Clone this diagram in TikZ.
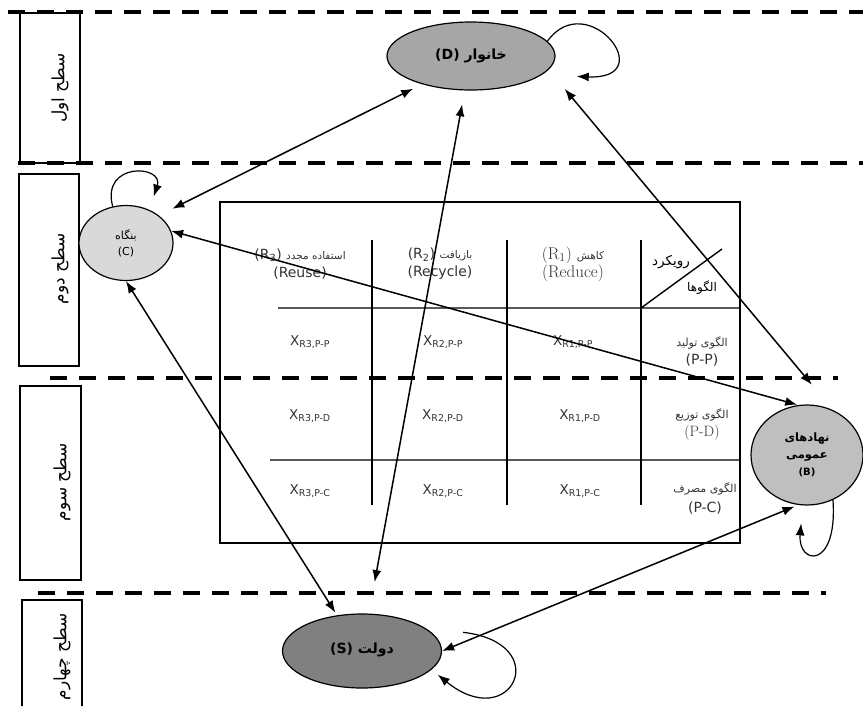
\documentclass[tikz,border=0pt]{standalone}
\usepackage{fontspec}
\usetikzlibrary{arrows.meta,shapes.geometric}
\TeXXeTstate=1
\newfontfamily\fa[Script=Arabic]{DejaVu Sans}
\newfontfamily\lat{DejaVu Sans}
\definecolor{khanevar}{RGB}{166,166,166}
\definecolor{bongah}{RGB}{217,217,217}
\definecolor{nahad}{RGB}{191,191,191}
\definecolor{dolat}{RGB}{128,128,128}
\begin{document}
\begin{tikzpicture}[x=1pt,y=-1pt,
	levelline/.style={line width=3.2pt,dash pattern=on 17pt off 12pt},
	rule/.style={line width=1.4pt},
	levelname/.style={rotate=90,font=\fa\fontsize{17}{20}\selectfont},
	actor/.style={draw,ellipse,line width=1.2pt,inner sep=0pt,align=center,font=\fa\bfseries\fontsize{14}{16}\selectfont},
	cell/.style={align=center,text=black!80,font=\lat\fontsize{14}{18}\selectfont},
	xcell/.style={text=black!80,font=\lat\fontsize{13.5}{14}\selectfont},
	link/.style={<->,>={Latex[length=12pt,width=9pt]},line width=1.5pt},
	selfloop/.style={->,>={Latex[length=12pt,width=9pt]},line width=1.2pt}]
	\useasboundingbox (0,0) rectangle (863,705);
	% مرز سطوح
	\foreach \y/\a/\b in {12/8/863,163/18/863,378/50/838,593/38/826}
	\draw[levelline] (\a,\y) -- (\b,\y);
	\draw[rule] (20,13) rectangle (80,163);
	\draw[rule] (19,174) rectangle (79,366);
	\draw[rule] (20,386) rectangle (81,580);
	\draw[rule] (22,706) -- (22,600) -- (82,600) -- (82,706);
	\node[levelname] (L1) at (60,88) {\beginR سطح اول\endR};
	\node[levelname] (L2) at (60,269) {\beginR سطح دوم\endR};
	\node[levelname] (L3) at (62,482) {\beginR سطح سوم\endR};
	\node[levelname] (L4) at (62,657) {\beginR سطح چهارم\endR};
	% جدول
	\draw[rule] (220,202) rectangle (740,543);
	\draw[rule] (278,308) -- (740,308) (270,460) -- (740,460) (641,308) -- (722,249);
	\foreach \x in {372,507,641}
	\draw[rule] (\x,240) -- (\x,505);
	\node[cell] (h3) at (300,264) {\beginR{\fa\fontsize{10.5}{18}\selectfont استفاده مجدد} \beginL(R\textsubscript{3})\endL\endR\\(Reuse)};
	\node[cell] (h2) at (440,264) {\beginR{\fa\fontsize{10.5}{18}\selectfont بازیافت} \beginL(R\textsubscript{2})\endL\endR\\(Recycle)};
	\node[cell,font=\fontsize{17}{18}\selectfont] (h1) at (573,264) {\beginR{\fa\fontsize{10.5}{18}\selectfont کاهش} \beginL(R$_1$)\endL\endR\\(Reduce)};
	\node[font=\fa\fontsize{13.5}{16}\selectfont] (rk) at (671,262) {\beginR رویکرد\endR};
	\node[font=\fa\fontsize{12}{14}\selectfont] (al) at (702,288) {\beginR الگوها\endR};
	\node[cell] (pp) at (702,351) {\beginR{\fa\fontsize{11}{18}\selectfont الگوی تولید}\endR\\(P-P)};
	\node[cell] (pd) at (702,424) {\beginR{\fa\fontsize{11}{18}\selectfont الگوی توزیع}\endR\\{\fontsize{15}{18}\selectfont\rmfamily (P-D)}};
	\node[cell,font=\lat\fontsize{14}{20}\selectfont] (pc) at (705,498) {\beginR{\fa\fontsize{11}{20}\selectfont الگوی مصرف}\endR\\(P-C)};
	\foreach \r/\y/\xa in {P-P/342/573,P-D/416/580,P-C/491/580}{
		\node[xcell] (x1\r) at (\xa,\y) {X\textsubscript{R1,\r}};
		\node[xcell] (x2\r) at (443,\y) {X\textsubscript{R2,\r}};
		\node[xcell] (x3\r) at (310,\y) {X\textsubscript{R3,\r}};
	}
	% بازیگران
	\node[actor,fill=khanevar,minimum width=168pt,minimum height=68pt] (D) at (471,56)
	{\raisebox{4pt}{\beginR خانوار \beginL{\lat\bfseries (D)}\endL\endR}};
	\node[actor,fill=bongah,minimum width=94pt,minimum height=75pt,font=\fa\fontsize{11}{16}\selectfont] (C) at (126,243)
	{\beginR بنگاه\endR\\{\lat (C)}};
	\node[actor,fill=nahad,minimum width=112pt,minimum height=100pt,font=\fa\bfseries\fontsize{11.5}{17}\selectfont] (B) at (807,455)
	{\beginR نهادهای\endR\\\beginR عمومی\endR\\{\lat\bfseries\fontsize{10}{17}\selectfont (B)}};
	\node[actor,fill=dolat,minimum width=159pt,minimum height=74pt] (S) at (362,651)
	{\raisebox{5pt}{\beginR دولت \beginL{\lat\bfseries (S)}\endL\endR}};
	% روابط
	\draw[link,shorten <=10pt,shorten >=15pt] (D.210) -- (C.40);
	\draw[link,shorten <=14pt,shorten >=32pt] (D) -- (S);
	\draw[link,shorten <=25pt,shorten >=33pt] (D.-10) -- (B.60);
	\draw[link,shorten >=1pt] (C.15) -- (B.100);
	\draw[link,shorten >=3pt] (C.south) -- (S.125);
	\draw[link,shorten <=4pt] (B.-100) -- (S.east);
	\draw[selfloop,shorten >=35pt] (D.11) .. controls +(40,-55) and +(120,5) .. (D.-15);
	\draw[selfloop,shorten >=14pt] (C.110) .. controls +(-12,-45) and +(15,-45) .. (C.55);
	\draw[selfloop,shorten >=18pt] (B.-60) .. controls +(5,70) and +(-5,60) .. (B.-95);
	\draw[selfloop,shorten <=38pt,shorten >=8pt] (S.20) .. controls +(130,15) and +(80,65) .. (S.-15);
\end{tikzpicture}
\end{document}
